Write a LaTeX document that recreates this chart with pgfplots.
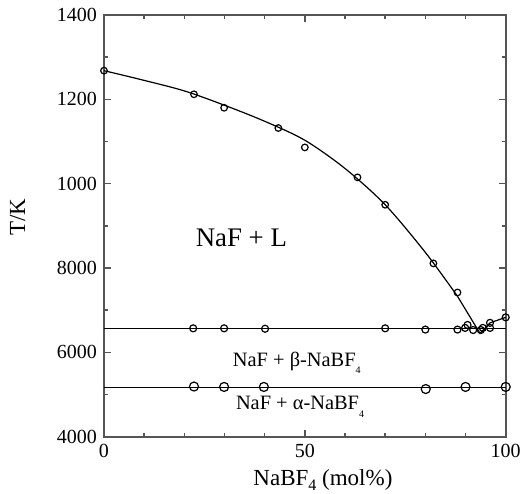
\documentclass[border=0pt]{standalone}
\usepackage{fontspec}
\setmainfont{Liberation Serif}
\usepackage{pgfplots}
\pgfplotsset{compat=1.18}

\definecolor{spine}{RGB}{85,85,85}

% liquidus of NaF (measured)
\pgfplotstableread{
x     T
0     1268
22.4  1212
29.9  1180
43.4  1132
50.0  1086
63.1  1015
70.0  950
82.0  811
88.0  742
}\liquidus

% eutectic arrest and NaBF4-rich side
\pgfplotstableread{
x     T
22.2  657
29.9  657
40.1  656
70.0  657
80.0  654
88.0  654
89.9  658
90.5  665
91.9  653
93.8  653
94.3  658
96.1  658
96.1  670
100   683
}\eutectic

% alpha/beta transition of NaBF4
\pgfplotstableread{
x     T
22.4  519
29.9  518
39.8  518
80.1  513
90.0  518
100   518
}\transition

\begin{document}
\begin{tikzpicture}
\begin{axis}[
  scale only axis,
  width=200.85pt, height=210.85pt,
  xmin=0, xmax=100, ymin=400, ymax=1400,
  axis line style={spine, line width=0.9pt},
  xtick={0,50,100}, xticklabels={0,50,100},
  minor xtick={10,20,30,40,60,70,80,90},
  ytick={400,600,800,1000,1200,1400},
  yticklabels={4000,6000,8000,1000,1200,1400},
  minor ytick={500,700,900,1100,1300},
  tick align=inside,
  major tick length=3.5pt, minor tick length=2pt,
  every tick/.style={spine, line width=0.8pt},
  tick label style={font=\fontsize{10}{12}\selectfont},
  xlabel={NaBF\raisebox{-0.45ex}{\fontsize{8}{9}\selectfont 4} (mol\%)},
  ylabel={T/K},
  label style={font=\fontsize{11.5}{13}\selectfont},
  xlabel style={at={(axis description cs:0.545,-0.103)}, anchor=center},
  ylabel style={at={(axis description cs:-0.215,0.521)}, anchor=center, rotate=0},
  clip=false,
]
% phase boundaries
\addplot[black, line width=0.6pt, smooth, tension=0.5] coordinates {
  (0,1268) (10,1245) (20,1220) (30,1186) (40,1148) (50,1103)
  (60,1036) (70,950) (80,837) (88,733)};
\addplot[black, line width=0.6pt] coordinates {
  (88,733) (93.6,645) (96.1,670) (100,683)};
\addplot[black, line width=0.6pt] coordinates {(0,657) (100,657)};
\addplot[black, line width=0.6pt] coordinates {(0,517) (100,517)};

% measured points
\addplot[only marks, mark=o, mark size=1.65pt, mark options={black, line width=0.6pt}]
  table[x=x, y=T] {\liquidus};
\addplot[only marks, mark=o, mark size=1.75pt, mark options={black, line width=0.6pt}]
  table[x=x, y=T] {\eutectic};
\addplot[only marks, mark=o, mark size=2.25pt, mark options={black, line width=0.6pt}]
  table[x=x, y=T] {\transition};

% phase fields
\node[font=\fontsize{13.4}{15}\selectfont] at (axis cs:34.2,871) {NaF + L};
\node[font=\fontsize{10.2}{12}\selectfont] at (axis cs:48.0,575)
  {NaF + β-NaBF\raisebox{-0.8ex}{\fontsize{5}{6}\selectfont 4}};
\node[font=\fontsize{10.2}{12}\selectfont] at (axis cs:48.8,471)
  {NaF + α-NaBF\raisebox{-0.8ex}{\fontsize{5}{6}\selectfont 4}};
\end{axis}
\pgfresetboundingbox
\path[use as bounding box] (-52pt,-28.5pt) rectangle (210.5pt,218.35pt);
\end{tikzpicture}
\end{document}
